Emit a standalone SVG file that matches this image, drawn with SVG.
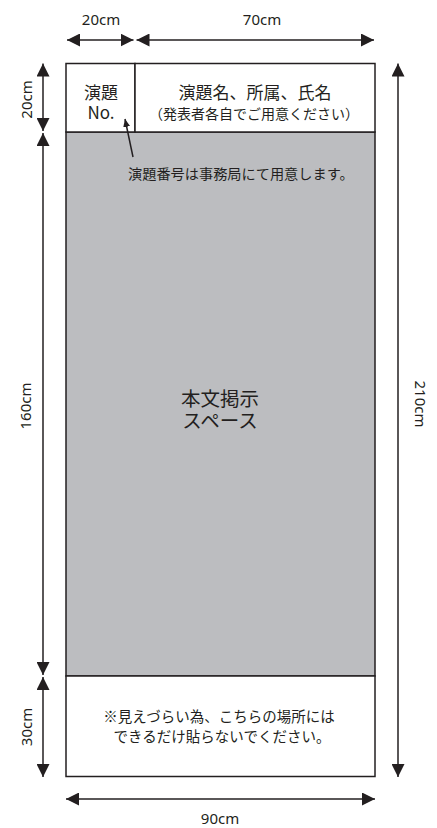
<svg xmlns="http://www.w3.org/2000/svg" width="437" height="828" viewBox="0 0 437 828">
  <style>
    .box { stroke: #231f20; stroke-width: 1.5; }
    .dim { stroke: #231f20; stroke-width: 1.5; fill: none; }
    .lbl { font-family: "Noto Sans", "Liberation Sans", sans-serif; font-size: 15px; fill: #231f20; text-anchor: middle; }
    .jp { font-family: "Noto Sans CJK JP", "Noto Sans", sans-serif; fill: #231f20; text-anchor: middle; }
  </style>
  <defs>
    <marker id="ah" viewBox="0 0 13 13" refX="13" refY="6.5" markerWidth="13" markerHeight="13" markerUnits="userSpaceOnUse" orient="auto-start-reverse">
      <path d="M0,0 L13,6.5 L0,13 Z" fill="#231f20"/>
    </marker>
    <marker id="ahs" viewBox="0 0 8 7" refX="8" refY="3.5" markerWidth="8" markerHeight="7" markerUnits="userSpaceOnUse" orient="auto">
      <path d="M0,0 L8,3.5 L0,7 Z" fill="#231f20"/>
    </marker>
  </defs>
  <rect width="437" height="828" fill="#ffffff"/>

  <g id="body">
    <rect class="box" x="66" y="132" width="309" height="544" fill="#bcbdc0"/>
    <text class="jp" x="220" y="405.5" font-size="19.5">本文掲示</text>
    <text class="jp" x="220" y="427.5" font-size="19.5">スペース</text>
  </g>
  <g id="header-no">
    <rect class="box" x="66" y="63.5" width="69" height="68.5" fill="#ffffff"/>
    <text class="jp" x="101" y="99" font-size="17">演題</text>
    <text class="jp" x="101" y="118.5" font-size="17">No.</text>
  </g>
  <g id="header-title">
    <rect class="box" x="135" y="63.5" width="240" height="68.5" fill="#ffffff"/>
    <text class="jp" x="255" y="99" font-size="17">演題名、所属、氏名</text>
    <text class="jp" x="254" y="119" font-size="14">（発表者各自でご用意ください）</text>
  </g>
  <g id="footer">
    <rect class="box" x="66" y="676" width="309" height="100.5" fill="#ffffff"/>
    <text class="jp" x="219" y="722" font-size="14.5">※見えづらい為、こちらの場所には</text>
    <text class="jp" x="222" y="742" font-size="14.5">できるだけ貼らないでください。</text>
  </g>
  <g id="note">
    <text class="jp" x="128" y="179" font-size="14.2" style="text-anchor:start">演題番号は事務局にて用意します。</text>
  </g>

  <g id="connectors">
    <line class="dim" x1="133" y1="157" x2="125" y2="119" marker-end="url(#ahs)"/>
    <line class="dim" x1="67" y1="40" x2="133.5" y2="40" marker-start="url(#ah)" marker-end="url(#ah)"/>
    <line class="dim" x1="136.5" y1="40" x2="374" y2="40" marker-start="url(#ah)" marker-end="url(#ah)"/>
    <line class="dim" x1="43" y1="63.5" x2="43" y2="131" marker-start="url(#ah)" marker-end="url(#ah)"/>
    <line class="dim" x1="43" y1="133" x2="43" y2="675" marker-start="url(#ah)" marker-end="url(#ah)"/>
    <line class="dim" x1="43" y1="677" x2="43" y2="777" marker-start="url(#ah)" marker-end="url(#ah)"/>
    <line class="dim" x1="398" y1="63.5" x2="398" y2="777" marker-start="url(#ah)" marker-end="url(#ah)"/>
    <line class="dim" x1="66" y1="799" x2="375" y2="799" marker-start="url(#ah)" marker-end="url(#ah)"/>
  </g>

  <g id="dimension-labels">
    <text class="lbl" x="101" y="25">20cm</text>
    <text class="lbl" x="262" y="25">70cm</text>
    <text class="lbl" x="220" y="824">90cm</text>
    <text class="lbl" transform="translate(32,99.5) rotate(-90)">20cm</text>
    <text class="lbl" transform="translate(31,406) rotate(-90)">160cm</text>
    <text class="lbl" transform="translate(32,727) rotate(-90)">30cm</text>
    <text class="lbl" transform="translate(415,404) rotate(90)">210cm</text>
  </g>
</svg>
